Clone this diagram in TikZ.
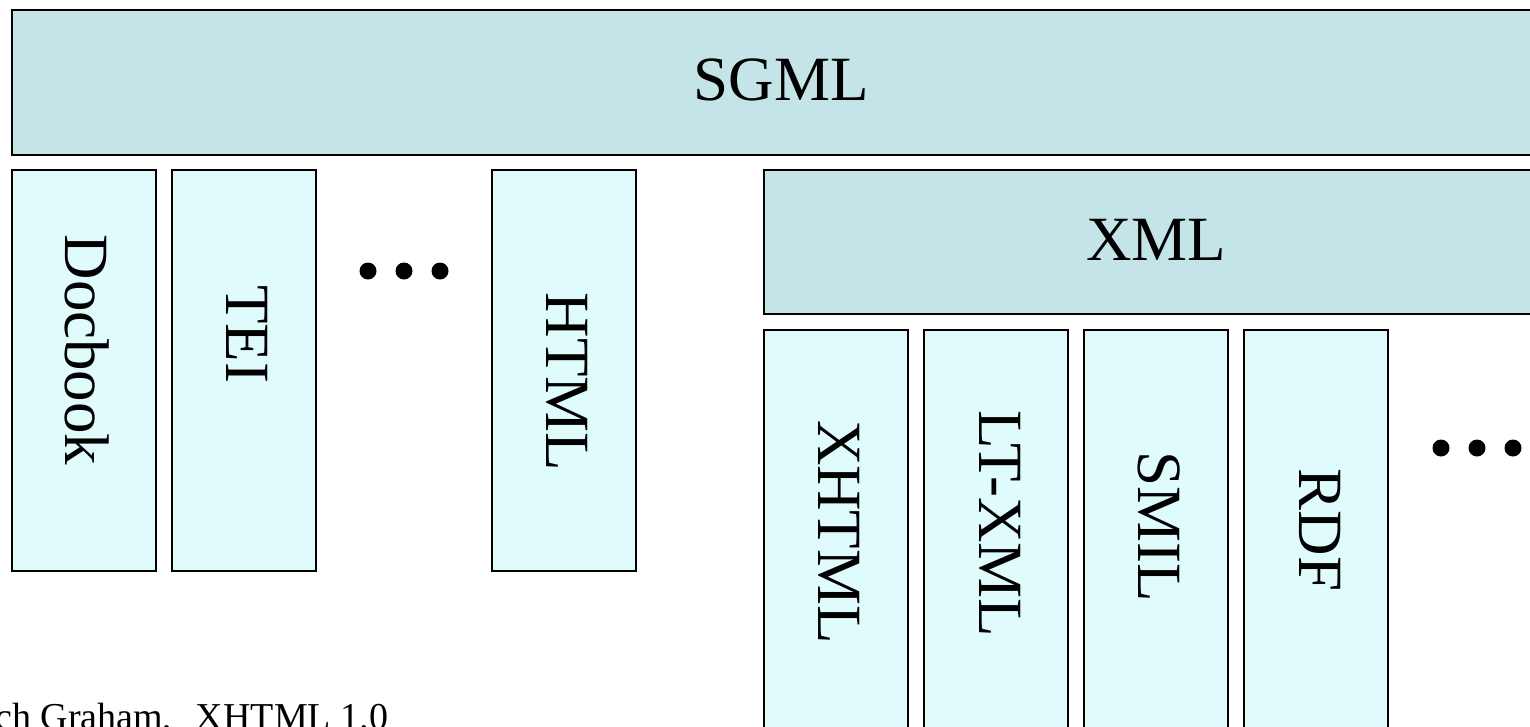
\documentclass[tikz,border=0pt]{standalone}
\usepackage{fontspec}
\setmainfont{Liberation Serif}
\usetikzlibrary{positioning}
\definecolor{layerfill}{RGB}{197,228,231}
\definecolor{appfill}{RGB}{224,251,252}

\begin{document}
\begin{tikzpicture}[
    x=1pt, y=-1pt,
    layer/.style={rectangle, draw, fill=layerfill, line width=1.8pt, inner sep=0pt},
    app/.style={rectangle, draw, fill=appfill, line width=1.8pt, inner sep=0pt,
        minimum width=144pt, minimum height=401pt},
    xml_app/.style={app, line width=1.2pt},
    big_label/.style={font=\fontsize{63}{70}\selectfont, inner sep=0pt},
    side_label/.style={big_label, rotate=-90},
    dot/.style={circle, fill=black, minimum size=17pt, inner sep=0pt},
]
\useasboundingbox (0,0) rectangle (1530,726);

% SGML layer
\node[layer, minimum width=1533pt, minimum height=145pt] (sgml) at (778.5,82.5) {};
\node[big_label] (sgml_txt) at (781,80) {SGML};

% SGML applications
\node[app] (docbook) at (84,370.5) {};
\node[app] (tei) at (244,370.5) {};
\node[app] (html) at (564,370.5) {};
\node[side_label] (docbook_txt) at (87,350) {Docbook};
\node[side_label] (tei_txt) at (247,334) {TEI};
\node[side_label] (html_txt) at (567,382) {HTML};
\foreach \x/\n in {368/a,404/b,440/c}
    \node[dot] (sgml_dot\n) at (\x,271) {};

% XML layer
\node[layer, minimum width=781pt, minimum height=144pt] (xml) at (1154.5,242) {};
\node[big_label] (xml_txt) at (1156,240) {XML};

% XML applications
\node[xml_app] (xhtml) at (836,530.5) {};
\node[xml_app] (ltxml) at (996,530.5) {};
\node[xml_app] (smil) at (1156,530.5) {};
\node[xml_app] (rdf) at (1316,530.5) {};
\node[side_label] (xhtml_txt) at (839,532) {XHTML};
\node[side_label] (ltxml_txt) at (1000,524) {LT-XML};
\node[side_label] (smil_txt) at (1159,527) {SMIL};
\node[side_label] (rdf_txt) at (1320,530) {RDF};
\foreach \x/\n in {1441/a,1477/b,1513/c}
    \node[dot] (xml_dot\n) at (\x,448) {};

% Source
\node[anchor=base west, inner sep=0pt, font=\fontsize{38}{42}\selectfont] (source) at (-5,729) {ch Graham,\hspace{14pt} XHTML 1.0};

\end{tikzpicture}
\end{document}
